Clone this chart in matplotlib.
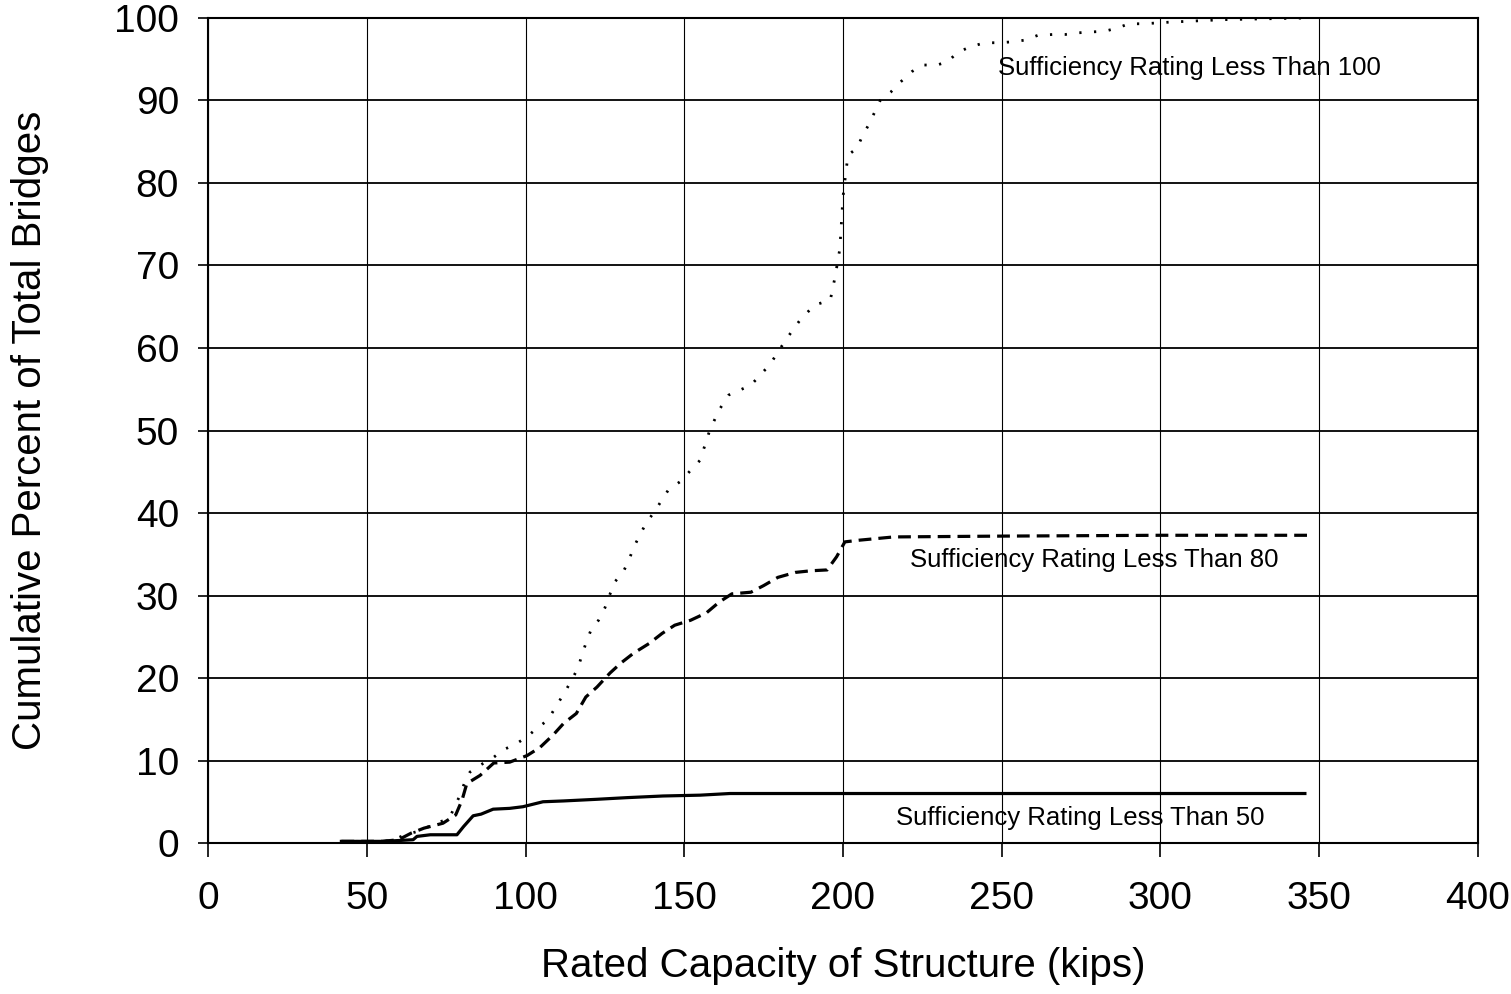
import matplotlib
matplotlib.use("Agg")
from matplotlib import pyplot as plt

plt.rcParams['font.family'] = ['Liberation Sans', 'DejaVu Sans']

# Sufficiency rating < 50 (solid)
x50 = [42, 55, 60, 64.6, 65.8, 70, 78.4, 80.5, 83.5, 86, 89.8, 95, 99.2, 105.5,
       112, 122.5, 132, 143.3, 155, 164.4, 200, 250, 300, 345.5]
y50 = [0.2, 0.2, 0.3, 0.4, 0.8, 1.0, 1.0, 2.0, 3.3, 3.5, 4.1, 4.2, 4.4, 5.0,
       5.1, 5.3, 5.5, 5.7, 5.8, 6.0, 6.0, 6.0, 6.0, 6.0]

# Sufficiency rating < 80 (dashed)
x80 = [42, 55, 60, 64, 68, 74, 78, 80, 81.5, 85.7, 90, 95, 100.5, 104.6, 108.7,
       112, 116, 119, 122.5, 126.6, 130, 134, 139, 143, 147, 152, 157, 161, 165,
       171, 175, 179.5, 185, 190, 195, 198, 200.6, 205, 216, 250, 300, 346.5]
y80 = [0.2, 0.2, 0.4, 1.2, 1.8, 2.4, 3.4, 5.2, 7.2, 8.2, 9.7, 9.8, 10.6, 11.6, 13.1,
       14.5, 15.7, 17.7, 18.9, 20.6, 21.8, 23.0, 24.2, 25.4, 26.4, 27.0, 27.9, 29.2, 30.2,
       30.4, 31.2, 32.2, 32.8, 33.0, 33.1, 34.7, 36.5, 36.7, 37.1, 37.2, 37.3, 37.3]

# Sufficiency rating < 100 (dotted)
x100 = [42, 55, 58, 62, 66, 72, 76, 79, 81, 82.5, 86, 90, 93, 97, 100.5, 103.6,
        107, 110, 112.4, 114.6, 116.5, 117.8, 119, 120.6, 123, 125, 128, 130.7,
        132.6, 134, 136, 138, 140.5, 143, 145, 148.7, 155, 158, 161, 164, 171,
        177, 182, 186.5, 191, 196, 197.5, 199, 200, 201, 201.6, 204.4, 206, 208,
        210, 211.7, 215, 218, 221.7, 225, 229.6, 233, 236, 240, 244.7, 249, 253,
        257, 261.4, 266, 270, 274, 278, 282.5, 286.6, 290, 294.5, 299, 303, 320, 346]
y100 = [0.2, 0.2, 0.3, 1.0, 1.4, 2.4, 3.0, 5.5, 7.5, 8.6, 9.5, 10.4, 11.3, 12.0, 12.9, 13.9,
        14.9, 16.8, 18.3, 19.8, 21.2, 22.8, 24.2, 25.8, 27.0, 28.5, 31.6, 32.8,
        34.3, 35.8, 37.3, 38.8, 40.1, 41.6, 42.8, 43.8, 46.4, 50.0, 52.5, 54.3, 55.5,
        58.0, 61.0, 63.4, 65.2, 65.8, 68.6, 72.0, 78.3, 81.6, 83.4, 84.2, 85.6, 87.0,
        88.6, 90.0, 91.0, 92.2, 93.5, 94.3, 94.3, 94.7, 95.8, 96.5, 97.0, 97.0, 97.1,
        97.3, 97.9, 98.0, 98.0, 98.2, 98.3, 98.4, 98.8, 99.3, 99.3, 99.4, 99.5, 99.8, 100.0]

xticks = [0, 50, 100, 150, 200, 250, 300, 350, 400]
yticks = [0, 10, 20, 30, 40, 50, 60, 70, 80, 90, 100]

fig = plt.figure(figsize=(15.11, 9.94), dpi=100)
ax = fig.add_axes([0.1377, 0.1519, 0.8404, 0.8300])

ax.plot(x50, y50, color='black', lw=2.3, ls='-')
ax.plot(x80, y80, color='black', lw=2.3, ls=(0, (4, 2.2)))
ax.plot(x100, y100, color='black', lw=2.0, ls=(0, (0.8, 4.5)))

ax.text(248.8, 93.9, 'Sufficiency Rating Less Than 100', fontsize=18.5, va='center', ha='left')
ax.text(221.0, 34.3, 'Sufficiency Rating Less Than 80', fontsize=18.5, va='center', ha='left')
ax.text(216.7, 3.0, 'Sufficiency Rating Less Than 50', fontsize=18.5, va='center', ha='left')

ax.set_xlim(0, 400)
ax.set_ylim(0, 100)
ax.set_xticks(xticks)
ax.set_yticks(yticks)
ax.tick_params(axis='both', labelsize=28, direction='out', width=1.2)
ax.tick_params(axis='x', length=10, pad=17)
ax.tick_params(axis='y', length=7, pad=14)
ax.grid(True, axis='y', color='black', lw=1.3)
ax.grid(True, axis='x', color='black', lw=0.8)
for s in ax.spines.values():
    s.set_linewidth(1.5)

ax.set_xlabel('Rated Capacity of Structure (kips)', fontsize=29, labelpad=22)
ax.set_ylabel('Cumulative Percent of Total Bridges', fontsize=29, labelpad=47)

plt.savefig('out.png', dpi=100)
